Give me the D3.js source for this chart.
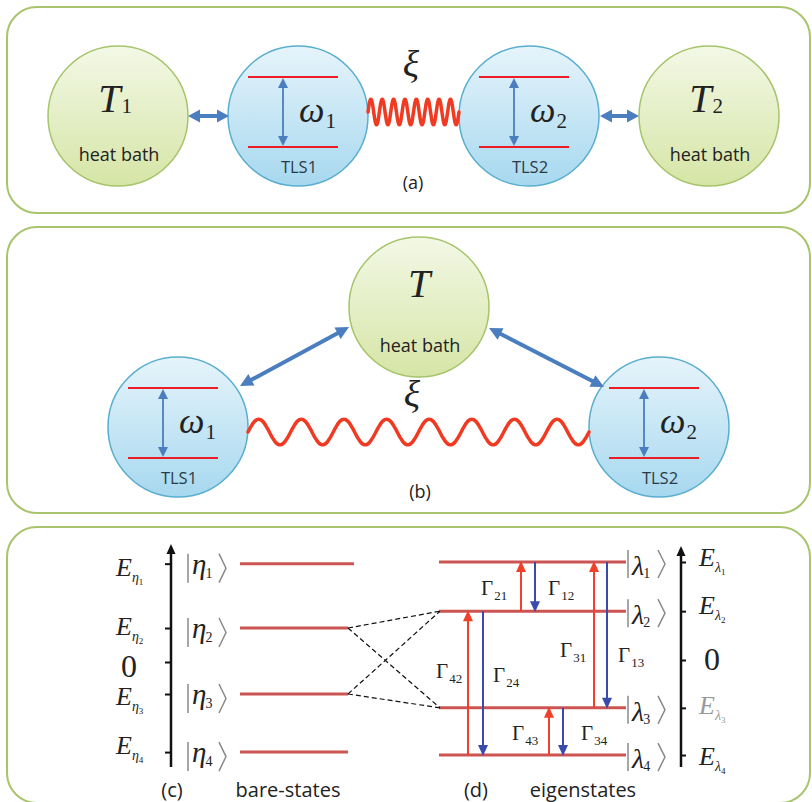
<!DOCTYPE html>
<html><head><meta charset="utf-8">
<script src="https://cdn.jsdelivr.net/npm/d3@7"></script>
<style>body{margin:0;background:#fff}</style>
</head><body><div id="c"></div>
<script>
// ---------- data ----------
const bareStates = ["1","2","3","4"];
const bareEnergies = [2.98, 1.03, -0.97, -2.73];
const eigenStates = ["1","2","3","4"];
const eigenEnergies = [2.97, 1.48, -1.45, -2.88];
const transitionLabels = ["21","12","31","13","42","24","43","34"];
const transitionFrom = [2,1,3,1,4,2,4,3];
const transitionTo   = [1,2,1,3,2,4,3,4];
const couplings = [["2","2"],["2","3"],["3","2"],["3","3"]]; // bare -> eigen (dashed)
const panelLabels = ["(a)","(b)","(c)","(d)"];
const captionLabels = ["bare-states","eigenstates"];
const tlsLabels = ["TLS1","TLS2"];
const bathLabels = ["1","2"];

// ---------- layout / style ----------
const W=812,H=802;
const serif="'Liberation Serif','Times New Roman',serif";
const sans="'Open Sans','Noto Sans',sans-serif";
const C={panel:"#a8c46c",gFill0:"#f3f8e6",gFill1:"#d6e5a6",gStroke:"#a6c46a",
  bFill0:"#e6f4fb",bFill1:"#a7d8ef",bStroke:"#58aecf",red:"#ee1c24",blueArr:"#4a7ebf",
  spring:"#f03a22",level:"#cc5452",up:"#f0402a",down:"#3a4aae",ink:"#222",gray:"#8a8a8a"};

const svg=d3.select("#c").append("svg").attr("width",W).attr("height",H);
svg.append("rect").attr("width",W).attr("height",H).attr("fill","#fff");
const defs=svg.append("defs");
function grad(id,c0,c1){const g=defs.append("linearGradient").attr("id",id).attr("x1",0).attr("y1",0).attr("x2",0).attr("y2",1);
  g.append("stop").attr("offset","0%").attr("stop-color",c0);g.append("stop").attr("offset","100%").attr("stop-color",c1);}
grad("gG",C.gFill0,C.gFill1);grad("gB",C.bFill0,C.bFill1);

// panels
[[7,206],[227,286],[527,276]].forEach(([y,h])=>{
  svg.append("rect").attr("x",7).attr("y",y).attr("width",803).attr("height",h).attr("rx",30)
   .attr("fill","none").attr("stroke",C.panel).attr("stroke-width",2);
});

function head(g,x1,y1,x2,y2,len,hw,col){
  const a=Math.atan2(y2-y1,x2-x1),c=Math.cos(a),s=Math.sin(a);
  const bx=x2-len*c,by=y2-len*s;
  g.append("path").attr("d",`M${x2},${y2}L${bx-hw*s},${by+hw*c}L${bx+hw*s},${by-hw*c}Z`).attr("fill",col);
}
function arrow(g,x1,y1,x2,y2,o){
  const len=o.len,a=Math.atan2(y2-y1,x2-x1),c=Math.cos(a),s=Math.sin(a);
  const sx=o.both?x1+len*0.8*c:x1, sy=o.both?y1+len*0.8*s:y1;
  g.append("line").attr("x1",sx).attr("y1",sy).attr("x2",x2-len*0.8*c).attr("y2",y2-len*0.8*s)
   .attr("stroke",o.col).attr("stroke-width",o.w);
  head(g,x1,y1,x2,y2,len,o.hw,o.col);
  if(o.both) head(g,x2,y2,x1,y1,len,o.hw,o.col);
}
function txt(g,x,y,parts,anchor){
  const t=g.append("text").attr("x",x).attr("y",y).attr("text-anchor",anchor||"start").attr("fill",C.ink);
  parts.forEach(p=>{const s=t.append("tspan").text(p.t).attr("font-size",p.size).attr("font-family",p.fam||serif)
    .attr("font-style",p.it?"italic":"normal");
    if(p.dx!=null)s.attr("dx",p.dx); if(p.dy!=null)s.attr("dy",p.dy); if(p.fill)s.attr("fill",p.fill);});
  return t;
}
function bath(g,cx,cy,sub,tOff){
  g.append("circle").attr("cx",cx).attr("cy",cy).attr("r",70).attr("fill","url(#gG)").attr("stroke",C.gStroke).attr("stroke-width",1.5);
  const parts=[{t:"T",size:40,it:true}]; if(sub)parts.push({t:sub,size:21,dx:1,dy:1});
  txt(g,cx+(sub?-3:0),cy+tOff,parts,"middle");
  g.append("text").attr("x",cx+1).attr("y",cy+45).attr("text-anchor","middle").attr("font-family",sans)
   .attr("font-size",18).attr("fill",C.ink).text("heat bath");
}
function tls(g,cx,cy,i){
  g.append("circle").attr("cx",cx).attr("cy",cy).attr("r",70).attr("fill","url(#gB)").attr("stroke",C.bStroke).attr("stroke-width",1.5);
  [-39,31].forEach(d=>g.append("line").attr("x1",cx-50).attr("x2",cx+40).attr("y1",cy+d).attr("y2",cy+d).attr("stroke",C.red).attr("stroke-width",2));
  arrow(g,cx-15,cy+30,cx-15,cy-38,{len:10,hw:5,w:1.8,col:C.blueArr,both:true});
  txt(g,cx+1,cy+6,[{t:"ω",size:36,it:true},{t:String(i+1),size:21,dx:1,dy:6}]);
  g.append("text").attr("x",cx+1).attr("y",cy+57).attr("text-anchor","middle").attr("font-family",sans)
   .attr("font-size",16.5).attr("fill","#2a3a48").text(tlsLabels[i]);
}
function wave(g,x0,x1,yc,amp,periods,w){
  const xs=d3.range(0,1.0001,1/(periods*24));
  const line=d3.line().x(t=>x0+(x1-x0)*t).y(t=>yc-amp*Math.sin(2*Math.PI*periods*t)).curve(d3.curveBasis);
  g.append("path").attr("d",line(xs)).attr("fill","none").attr("stroke",C.spring).attr("stroke-width",w).attr("stroke-linecap","round");
}

// ---------- panel (a) ----------
const ga=svg.append("g");
bath(ga,118,116,bathLabels[0],-4); tls(ga,298,116,0); tls(ga,529,116,1); bath(ga,709,116,bathLabels[1],-4);
arrow(ga,188,116,229,116,{len:12,hw:6.5,w:4,col:C.blueArr,both:true});
arrow(ga,600,116,639,116,{len:12,hw:6.5,w:4,col:C.blueArr,both:true});
wave(ga,368,459,112,13,8,3.5);
txt(ga,411,77,[{t:"ξ",size:38,it:true}],"middle");
ga.append("text").attr("x",413).attr("y",189).attr("text-anchor","middle").attr("font-family",sans).attr("font-size",18).attr("fill",C.ink).text(panelLabels[0]);

// ---------- panel (b) ----------
const gb=svg.append("g");
bath(gb,419,307,null,-10); tls(gb,178,427,0); tls(gb,659,427,1);
arrow(gb,240,386,349,327,{len:13,hw:6.5,w:4,col:C.blueArr,both:true});
arrow(gb,489,328,604,387,{len:13,hw:6.5,w:4,col:C.blueArr,both:true});
wave(gb,248,589,432,13,8,3.5);
txt(gb,412,407,[{t:"ξ",size:38,it:true}],"middle");
gb.append("text").attr("x",420).attr("y",498).attr("text-anchor","middle").attr("font-family",sans).attr("font-size",18).attr("fill",C.ink).text(panelLabels[1]);

// ---------- panels (c)/(d) ----------
const gc=svg.append("g");
const yL=d3.scaleLinear().domain([-3,3]).range([662+99,662-99]);
const yR=d3.scaleLinear().domain([-3,3]).range([660+99,660-99]);
// left axis
const axL=gc.append("g").attr("transform","translate(171,0)");
axL.call(d3.axisLeft(yL).tickValues([...bareEnergies,0]).tickSize(6).tickFormat(""));
axL.select(".domain").remove();
axL.selectAll(".tick line").attr("stroke","#111").attr("stroke-width",2);
gc.append("line").attr("x1",171).attr("x2",171).attr("y1",553).attr("y2",767).attr("stroke","#111").attr("stroke-width",2.5);
head(gc,171,600,171,544,10,4.5,"#111");
// right axis
const axR=gc.append("g").attr("transform","translate(681,0)");
axR.call(d3.axisRight(yR).tickValues([...eigenEnergies,0]).tickSize(5).tickFormat(""));
axR.select(".domain").remove();
axR.selectAll(".tick line").attr("stroke","#111").attr("stroke-width",2);
gc.append("line").attr("x1",681).attr("x2",681).attr("y1",554).attr("y2",767).attr("stroke","#111").attr("stroke-width",2.5);
head(gc,681,600,681,546,10,4.5,"#111");

// bare levels
bareEnergies.forEach((e,i)=>{
  const y=yL(e);
  gc.append("line").attr("x1",240).attr("x2",i===0?354:348).attr("y1",y).attr("y2",y).attr("stroke",C.level).attr("stroke-width",3);
  gc.append("line").attr("x1",188).attr("x2",188).attr("y1",y-10).attr("y2",y+19).attr("stroke",C.gray).attr("stroke-width",1.5);
  gc.append("path").attr("d",`M219,${y-10}L226,${y+4.5}L219,${y+19}`).attr("fill","none").attr("stroke",C.gray).attr("stroke-width",1.5);
  txt(gc,192,y+10,[{t:"η",size:29,it:true},{t:bareStates[i],size:14,dx:-1,dy:4}]);
  const off=[12,7,11,2][i];
  txt(gc,116,y+off,[{t:"E",size:26,it:true},{t:"η",size:14,it:true,dy:6},{t:bareStates[i],size:9,dy:3}]);
});
txt(gc,129,677,[{t:"0",size:32}],"middle");

// eigen levels
eigenEnergies.forEach((e,i)=>{
  const y=yR(e);
  gc.append("line").attr("x1",439).attr("x2",626).attr("y1",y).attr("y2",y).attr("stroke",C.level).attr("stroke-width",3);
  gc.append("line").attr("x1",628).attr("x2",628).attr("y1",y-12).attr("y2",y+16).attr("stroke",C.gray).attr("stroke-width",1.5);
  gc.append("path").attr("d",`M658,${y-12}L665,${y+2}L658,${y+16}`).attr("fill","none").attr("stroke",C.gray).attr("stroke-width",1.5);
  txt(gc,632,y+13,[{t:"λ",size:28,it:true},{t:eigenStates[i],size:14,dx:-1,dy:3}]);
  const off=[4,3,6,10][i];
  const f=i===2?"#999":null;
  txt(gc,699,y+off,[{t:"E",size:26,it:true,fill:f},{t:"λ",size:14,it:true,dy:6,fill:f},{t:eigenStates[i],size:9,dy:3,fill:f}]);
});
txt(gc,712,670,[{t:"0",size:32}],"middle");

// dashed couplings
couplings.forEach(([b,e])=>{
  const bi=bareStates.indexOf(b),ei=eigenStates.indexOf(e);
  gc.append("line").attr("x1",348).attr("y1",yL(bareEnergies[bi])).attr("x2",440).attr("y2",yR(eigenEnergies[ei]))
   .attr("stroke","#111").attr("stroke-width",1.2).attr("stroke-dasharray","5,3");
});

// transitions
const arrowX=[521,535,594,607,468,483,549,563];
const labelPos=[[481,595],[548,595],[560,657],[618,662],[436,678],[493,682],[512,740],[581,740]];
transitionLabels.forEach((lab,i)=>{
  const yf=yR(eigenEnergies[transitionFrom[i]-1]), yt=yR(eigenEnergies[transitionTo[i]-1]);
  const up=yt<yf, x=arrowX[i];
  arrow(gc,x,yf,x,yt+(up?-1:1),{len:11,hw:5,w:2,col:up?C.up:C.down});
  txt(gc,labelPos[i][0],labelPos[i][1],[{t:"Γ",size:21},{t:lab,size:13,dx:1,dy:5}]);
});

// captions
[[172,panelLabels[2]],[288,captionLabels[0]],[476,panelLabels[3]],[583,captionLabels[1]]].forEach(([x,t])=>{
  gc.append("text").attr("x",x).attr("y",797).attr("text-anchor","middle").attr("font-family",sans).attr("font-size",20).attr("fill",C.ink).text(t);
});
</script></body></html>
